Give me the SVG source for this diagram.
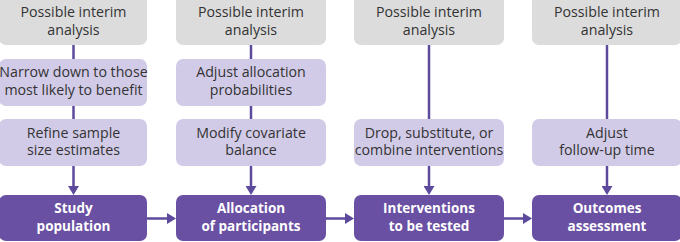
<svg xmlns="http://www.w3.org/2000/svg" width="680" height="242" viewBox="0 0 680 242">
<defs>
<style>
.g{fill:#dcdcdc}
.l{fill:#d2cbe8}
.d{fill:#6a50a3}
text{font-family:"Open Sans","Noto Sans","Liberation Sans",sans-serif;font-size:14.2px;text-anchor:middle}
.t{fill:#333333}
.w{fill:#ffffff;font-weight:bold;font-size:13.5px}
.c{stroke:#5d4a9d;stroke-width:2.5;fill:none}
</style>
<marker id="ah" markerUnits="userSpaceOnUse" markerWidth="9" markerHeight="11" refX="2" refY="5.5" orient="auto">
<path d="M0,0 L9,5.5 L0,11 z" fill="#5d4a9d"/>
</marker>
</defs>
<g id="connectors">
<line class="c" x1="73.5" y1="45" x2="73.5" y2="59"/>
<line class="c" x1="73.5" y1="106" x2="73.5" y2="119"/>
<line class="c" x1="73.5" y1="166" x2="73.5" y2="188" marker-end="url(#ah)"/>
<line class="c" x1="251" y1="45" x2="251" y2="59"/>
<line class="c" x1="251" y1="106" x2="251" y2="119"/>
<line class="c" x1="251" y1="166" x2="251" y2="188" marker-end="url(#ah)"/>
<line class="c" x1="429" y1="45" x2="429" y2="119"/>
<line class="c" x1="429" y1="166" x2="429" y2="188" marker-end="url(#ah)"/>
<line class="c" x1="607" y1="45" x2="607" y2="119"/>
<line class="c" x1="607" y1="166" x2="607" y2="188" marker-end="url(#ah)"/>
<line class="c" x1="147" y1="218.5" x2="169" y2="218.5" marker-end="url(#ah)"/>
<line class="c" x1="326" y1="218.5" x2="347" y2="218.5" marker-end="url(#ah)"/>
<line class="c" x1="504" y1="218.5" x2="525" y2="218.5" marker-end="url(#ah)"/>
</g>
<g id="interim1"><rect class="g" x="-1" y="-6" width="148" height="51" rx="7"/><text class="t" x="73.5" y="17">Possible interim</text><text class="t" x="73.5" y="35">analysis</text></g>
<g id="interim2"><rect class="g" x="176" y="-6" width="150" height="51" rx="7"/><text class="t" x="251" y="17">Possible interim</text><text class="t" x="251" y="35">analysis</text></g>
<g id="interim3"><rect class="g" x="354" y="-6" width="150" height="51" rx="7"/><text class="t" x="429" y="17">Possible interim</text><text class="t" x="429" y="35">analysis</text></g>
<g id="interim4"><rect class="g" x="532" y="-6" width="150" height="51" rx="7"/><text class="t" x="607" y="17">Possible interim</text><text class="t" x="607" y="35">analysis</text></g>
<g id="narrow"><rect class="l" x="-1" y="59" width="148" height="47" rx="7"/><text class="t" x="73.5" y="77">Narrow down to those</text><text class="t" x="73.5" y="95">most likely to benefit</text></g>
<g id="adjustalloc"><rect class="l" x="176" y="59" width="150" height="47" rx="7"/><text class="t" x="251" y="77">Adjust allocation</text><text class="t" x="251" y="95">probabilities</text></g>
<g id="refine"><rect class="l" x="-1" y="119" width="148" height="47" rx="7"/><text class="t" x="73.5" y="137.5">Refine sample</text><text class="t" x="73.5" y="155">size estimates</text></g>
<g id="modify"><rect class="l" x="176" y="119" width="150" height="47" rx="7"/><text class="t" x="251" y="137.5">Modify covariate</text><text class="t" x="251" y="155">balance</text></g>
<g id="drop"><rect class="l" x="354" y="119" width="150" height="47" rx="7"/><text class="t" x="429" y="137.5">Drop, substitute, or</text><text class="t" x="429" y="155">combine interventions</text></g>
<g id="followup"><rect class="l" x="532" y="119" width="150" height="47" rx="7"/><text class="t" x="607" y="137.5">Adjust</text><text class="t" x="607" y="155">follow-up time</text></g>
<g id="study"><rect class="d" x="-1" y="195" width="148" height="46" rx="7"/><text class="w" x="73.5" y="212.5">Study</text><text class="w" x="73.5" y="231">population</text></g>
<g id="allocation"><rect class="d" x="176" y="195" width="150" height="46" rx="7"/><text class="w" x="251" y="212.5">Allocation</text><text class="w" x="251" y="231">of participants</text></g>
<g id="interventions"><rect class="d" x="354" y="195" width="150" height="46" rx="7"/><text class="w" x="429" y="212.5">Interventions</text><text class="w" x="429" y="231">to be tested</text></g>
<g id="outcomes"><rect class="d" x="532" y="195" width="150" height="46" rx="7"/><text class="w" x="607" y="212.5">Outcomes</text><text class="w" x="607" y="231">assessment</text></g>
</svg>
